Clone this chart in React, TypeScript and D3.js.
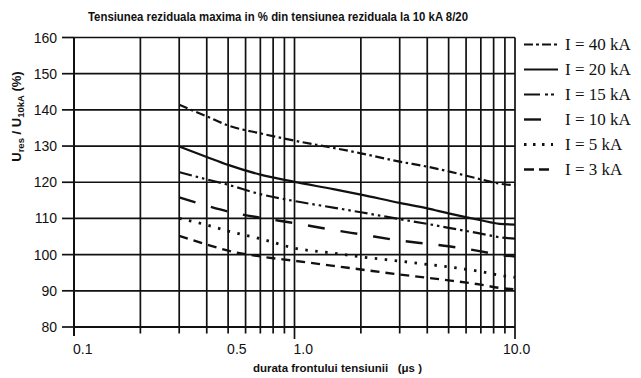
import React from 'react';
import * as d3 from 'd3';

const titleText = 'Tensiunea reziduala maxima in % din tensiunea reziduala la 10 kA 8/20';
const xAxisTitle = 'durata frontului tensiunii   (\u03bcs )';

const durations = [0.3, 0.4, 0.5, 0.7, 1, 1.5, 2, 3, 4, 5, 7, 8.5, 10];
const u40kA = [141.4, 138.2, 135.7, 133.5, 131.5, 129.5, 128.0, 125.7, 124.3, 123.0, 120.8, 119.6, 119.2];
const u20kA = [129.9, 127.0, 124.8, 122.1, 120.1, 118.1, 116.6, 114.3, 112.8, 111.4, 109.5, 108.5, 108.3];
const u15kA = [122.8, 120.8, 119.3, 116.7, 114.8, 113.0, 111.7, 109.8, 108.5, 107.4, 105.8, 104.8, 104.4];
const u10kA = [115.8, 113.5, 111.9, 110.2, 108.7, 106.8, 105.6, 103.9, 103.0, 102.3, 100.9, 99.9, 99.5];
const u5kA = [110.0, 108.2, 106.5, 104.4, 101.8, 100.4, 99.4, 98.2, 97.3, 96.6, 95.3, 94.3, 93.7];
const u3kA = [105.2, 102.8, 101.1, 99.5, 98.3, 96.9, 95.9, 94.5, 93.6, 92.9, 91.7, 90.8, 90.4];

const seriesNames = ['I = 40 kA', 'I = 20 kA', 'I = 15 kA', 'I = 10 kA', 'I = 5 kA', 'I = 3 kA'];
const seriesValues = [u40kA, u20kA, u15kA, u10kA, u5kA, u3kA];

const yTicks = [80, 90, 100, 110, 120, 130, 140, 150, 160];
const xGridValues = [0.2, 0.3, 0.4, 0.5, 0.6, 0.7, 0.8, 0.9, 1, 2, 3, 4, 5, 6, 7, 8, 9, 10];
const xMajorTicks = [1, 10];
const xLabelValues = [0.1, 0.5, 1, 10];
const xLabelTexts = ['0.1', '0.5', '1.0', '10.0'];

const seriesStyles = [
  { dash: '9 3.5 2.5 3.5', legendDash: '9 3 3 3', legendLen: 33, width: 2.2 },
  { dash: undefined, legendDash: undefined, legendLen: 34, width: 2.2 },
  { dash: '13 4 2.5 4 2.5 4', legendDash: '16 5 3 3 3 30', legendLen: 32, width: 2.2 },
  { dash: '17 16', legendDash: undefined, legendLen: 17, width: 2.4 },
  { dash: '2.5 7.5', legendDash: '2.5 6.5', legendLen: 29, width: 2.8 },
  { dash: '9 6', legendDash: '10 5', legendLen: 26, width: 2.4 },
];

const INK = '#111';

export default function App() {
  const x = d3.scaleLog().domain([0.1, 10]).range([74, 515]);
  const y = d3.scaleLinear().domain([80, 160]).range([327, 37.5]);

  const line = d3
    .line<number>()
    .x((_, i) => x(durations[i]))
    .y((d) => y(d))
    .curve(d3.curveMonotoneX);

  const sans = 'Liberation Sans, Arial, Helvetica, sans-serif';
  const narrow = 'Liberation Sans Narrow, Arial Narrow, Liberation Sans, Arial, sans-serif';
  const serif = 'Liberation Serif, Times New Roman, serif';

  const legendX0 = 524;
  const legendTextX = 565;
  const legendRowY = (i: number) => 44.5 + i * 25;

  return (
    <svg
      width={641}
      height={378}
      style={{ position: 'absolute', left: 0, top: 0, background: '#fff' }}
    >
      <rect x={0} y={0} width={641} height={378} fill="#fff" />

      {/* title */}
      <text
        x={88}
        y={21}
        fontFamily={narrow}
        fontWeight="bold"
        fontSize={12}
        fill={INK}
        textLength={380}
        lengthAdjust="spacingAndGlyphs"
      >
        {titleText}
      </text>

      {/* horizontal grid */}
      {yTicks.map((t) => (
        <line
          key={'h' + t}
          x1={x(0.1)}
          x2={x(10)}
          y1={y(t)}
          y2={y(t)}
          stroke={INK}
          strokeWidth={t === 80 ? 2 : 1.7}
        />
      ))}
      {/* y ticks */}
      {yTicks.map((t) => (
        <line key={'yt' + t} x1={62} x2={x(0.1)} y1={y(t)} y2={y(t)} stroke={INK} strokeWidth={1.7} />
      ))}
      {/* vertical grid */}
      {xGridValues.map((v) => (
        <line
          key={'v' + v}
          x1={x(v)}
          x2={x(v)}
          y1={y(160)}
          y2={y(80) + (xMajorTicks.includes(v) ? 12 : 6.5)}
          stroke={INK}
          strokeWidth={1.7}
        />
      ))}
      {/* left axis */}
      <line x1={x(0.1)} x2={x(0.1)} y1={y(160)} y2={y(80) + 9} stroke={INK} strokeWidth={2} />

      {/* y labels */}
      {yTicks.map((t) => (
        <text
          key={'yl' + t}
          x={57}
          y={y(t) + 5}
          textAnchor="end"
          fontFamily={sans}
          fontSize={14}
          fill={INK}
        >
          {t}
        </text>
      ))}

      {/* x labels */}
      {xLabelValues.map((v, i) => (
        <text
          key={'xl' + v}
          x={x(v) + (i === xLabelValues.length - 1 ? -12 : -1)}
          y={354}
          fontFamily={sans}
          fontSize={14}
          fill={INK}
        >
          {xLabelTexts[i]}
        </text>
      ))}

      {/* x axis title */}
      <text
        x={253}
        y={372}
        fontFamily={narrow}
        fontWeight="bold"
        fontSize={11.5}
        fill={INK}
        textLength={169}
        lengthAdjust="spacingAndGlyphs"
        style={{ whiteSpace: 'pre' }}
      >
        {xAxisTitle}
      </text>

      {/* y axis title */}
      <text
        transform={`translate(20.5, 116.5) rotate(-90)`}
        textAnchor="middle"
        fontFamily={sans}
        fontWeight="bold"
        fontSize={13}
        fill={INK}
      >
        <tspan>U</tspan>
        <tspan dy={3.5} fontSize={9.5}>res</tspan>
        <tspan dy={-3.5}> / U</tspan>
        <tspan dy={3.5} fontSize={9.5}>10kA</tspan>
        <tspan dy={-3.5}> (%)</tspan>
      </text>

      {/* curves */}
      {seriesValues.map((vals, i) => (
        <path
          key={'s' + i}
          d={line(vals) || ''}
          fill="none"
          stroke={INK}
          strokeWidth={seriesStyles[i].width}
          strokeDasharray={seriesStyles[i].dash}
        />
      ))}

      {/* legend */}
      {seriesNames.map((name, i) => (
        <g key={'lg' + i}>
          <line
            x1={legendX0}
            x2={legendX0 + seriesStyles[i].legendLen}
            y1={legendRowY(i)}
            y2={legendRowY(i)}
            stroke={INK}
            strokeWidth={seriesStyles[i].width}
            strokeDasharray={seriesStyles[i].legendDash}
          />
          <text
            x={legendTextX}
            y={legendRowY(i) + 5.5}
            fontFamily={serif}
            fontSize={17}
            fill={INK}
          >
            {name}
          </text>
        </g>
      ))}
    </svg>
  );
}
